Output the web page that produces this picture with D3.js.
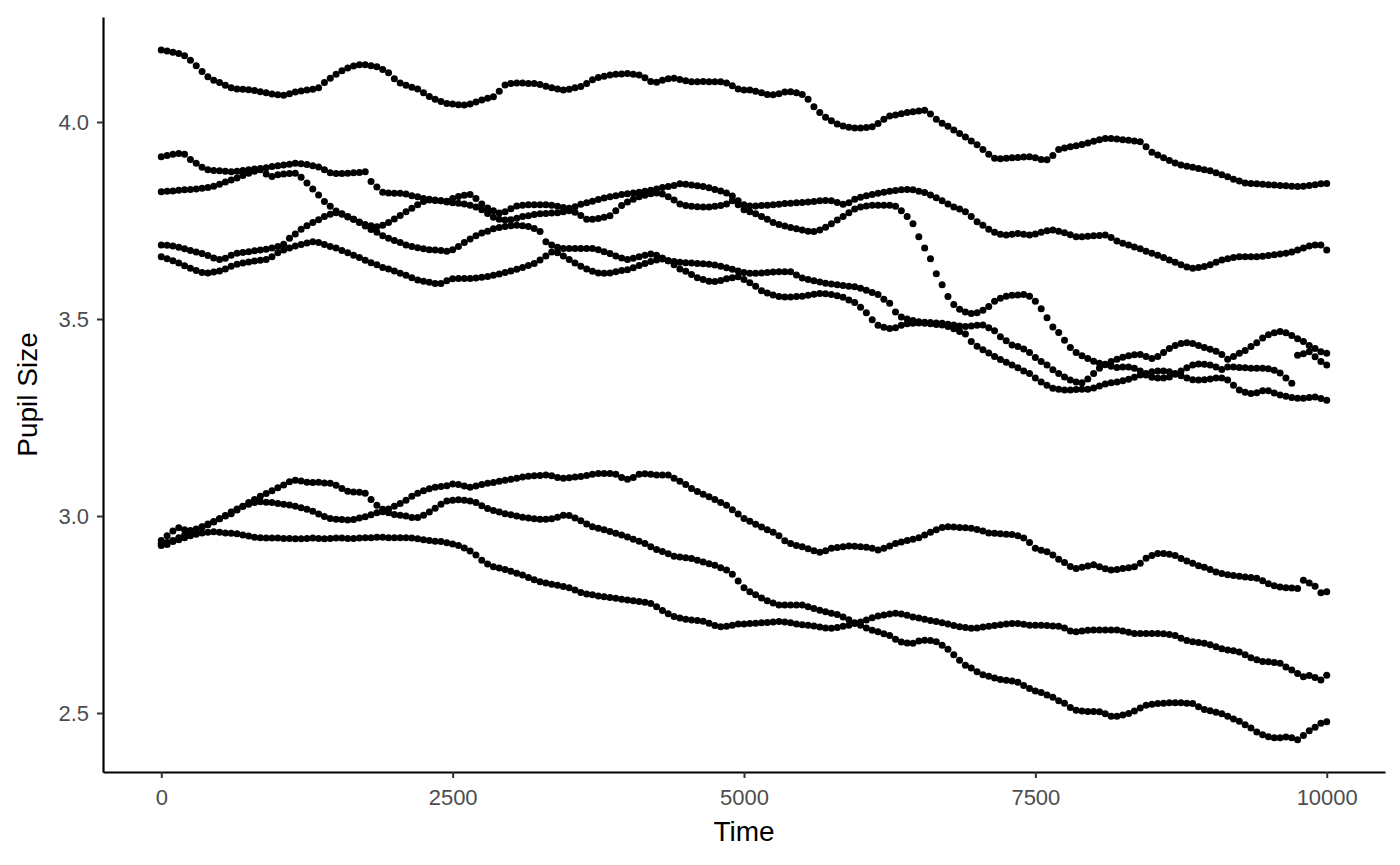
<!DOCTYPE html>
<html>
<head>
<meta charset="utf-8">
<script src="https://cdn.jsdelivr.net/npm/d3@7"></script>
<style>
  body { margin: 0; background: #fff; }
  svg { display: block; }
</style>
</head>
<body>
<div id="chart"></div>
<script>
// pupil traces, one value every 50 ms from 0 to 10000
var times = d3.range(0, 10001, 50);

var trial1 = [
  4.183, 4.180, 4.177, 4.174, 4.168, 4.157, 4.143, 4.128, 4.115, 4.106,
  4.100, 4.093, 4.087, 4.084, 4.083, 4.082, 4.080, 4.077, 4.074, 4.071,
  4.069, 4.068, 4.072, 4.076, 4.079, 4.081, 4.083, 4.087, 4.100, 4.111,
  4.121, 4.130, 4.137, 4.142, 4.145, 4.145, 4.143, 4.140, 4.133, 4.125,
  4.110, 4.099, 4.093, 4.088, 4.084, 4.074, 4.065, 4.058, 4.052, 4.047,
  4.046, 4.044, 4.043, 4.046, 4.051, 4.056, 4.060, 4.064, 4.078, 4.094,
  4.098, 4.099, 4.099, 4.098, 4.098, 4.095, 4.091, 4.087, 4.084, 4.081,
  4.083, 4.087, 4.090, 4.098, 4.107, 4.113, 4.116, 4.119, 4.121, 4.122,
  4.123, 4.121, 4.119, 4.112, 4.103, 4.101, 4.106, 4.110, 4.111, 4.108,
  4.105, 4.102, 4.102, 4.103, 4.102, 4.102, 4.102, 4.099, 4.092, 4.084,
  4.081, 4.081, 4.078, 4.074, 4.070, 4.069, 4.072, 4.076, 4.077, 4.074,
  4.070, 4.058, 4.039, 4.024, 4.012, 4.003, 3.995, 3.990, 3.987, 3.985,
  3.985, 3.986, 3.988, 3.996, 4.007, 4.015, 4.018, 4.021, 4.024, 4.026,
  4.028, 4.030, 4.020, 4.007, 3.997, 3.989, 3.980, 3.971, 3.962, 3.952,
  3.942, 3.930, 3.918, 3.908, 3.907, 3.908, 3.909, 3.910, 3.911, 3.912,
  3.909, 3.905, 3.904, 3.915, 3.930, 3.934, 3.937, 3.940, 3.943, 3.947,
  3.951, 3.955, 3.958, 3.958, 3.957, 3.955, 3.954, 3.952, 3.950, 3.937,
  3.923, 3.916, 3.909, 3.902, 3.896, 3.891, 3.888, 3.885, 3.882, 3.879,
  3.876, 3.871, 3.866, 3.861, 3.855, 3.850, 3.845, 3.844, 3.843, 3.842,
  3.841, 3.840, 3.839, 3.838, 3.837, 3.836, 3.837, 3.839, 3.841, 3.843,
  3.844
];

var trial2 = [
  3.912, 3.915, 3.918, 3.920, 3.918, 3.905, 3.895, 3.885, 3.879, 3.877,
  3.876, 3.875, 3.874, 3.875, 3.877, 3.879, 3.881, 3.882, 3.884, 3.887,
  3.889, 3.891, 3.893, 3.895, 3.894, 3.892, 3.889, 3.886, 3.879, 3.871,
  3.869, 3.869, 3.870, 3.871, 3.872, 3.874, 3.849, 3.835, 3.822, 3.820,
  3.819, 3.819, 3.817, 3.813, 3.810, 3.806, 3.804, 3.802, 3.800, 3.799,
  3.806, 3.811, 3.814, 3.816, 3.806, 3.792, 3.782, 3.775, 3.769, 3.772,
  3.780, 3.787, 3.789, 3.790, 3.790, 3.790, 3.790, 3.789, 3.786, 3.783,
  3.781, 3.785, 3.791, 3.795, 3.799, 3.803, 3.807, 3.810, 3.813, 3.816,
  3.818, 3.820, 3.822, 3.824, 3.827, 3.830, 3.834, 3.836, 3.839, 3.843,
  3.842, 3.840, 3.838, 3.836, 3.833, 3.829, 3.825, 3.820, 3.812, 3.800,
  3.790, 3.787, 3.787, 3.788, 3.789, 3.790, 3.791, 3.793, 3.794, 3.795,
  3.796, 3.797, 3.798, 3.800, 3.801, 3.800, 3.796, 3.791, 3.795, 3.804,
  3.809, 3.813, 3.816, 3.819, 3.822, 3.824, 3.826, 3.828, 3.829, 3.828,
  3.824, 3.821, 3.815, 3.808, 3.800, 3.792, 3.784, 3.779, 3.772, 3.760,
  3.747, 3.738, 3.728, 3.720, 3.715, 3.713, 3.715, 3.717, 3.715, 3.713,
  3.716, 3.720, 3.724, 3.726, 3.723, 3.719, 3.714, 3.709, 3.709, 3.710,
  3.711, 3.712, 3.713, 3.707, 3.698, 3.692, 3.688, 3.683, 3.678, 3.672,
  3.667, 3.662, 3.656, 3.650, 3.644, 3.638, 3.632, 3.629, 3.631, 3.633,
  3.638, 3.644, 3.650, 3.653, 3.656, 3.658, 3.658, 3.658, 3.658, 3.659,
  3.661, 3.663, 3.665, 3.667, 3.670, 3.675, 3.680, 3.685, 3.688, 3.688,
  3.675
];

var trial3 = [
  3.688, 3.687, 3.685, 3.682, 3.678, 3.674, 3.670, 3.666, 3.661, 3.655,
  3.651, 3.654, 3.662, 3.667, 3.669, 3.671, 3.673, 3.675, 3.677, 3.680,
  3.684, 3.690, 3.705, 3.716, 3.728, 3.737, 3.745, 3.752, 3.760, 3.766,
  3.770, 3.766, 3.760, 3.753, 3.746, 3.740, 3.737, 3.734, 3.738, 3.745,
  3.754, 3.763, 3.772, 3.781, 3.790, 3.798, 3.802, 3.801, 3.800, 3.797,
  3.795, 3.794, 3.792, 3.789, 3.784, 3.777, 3.768, 3.758, 3.753, 3.751,
  3.752, 3.756, 3.760, 3.762, 3.765, 3.767, 3.768, 3.769, 3.770, 3.772,
  3.775, 3.771, 3.763, 3.753, 3.753, 3.755, 3.758, 3.762, 3.775, 3.788,
  3.797, 3.804, 3.810, 3.814, 3.818, 3.820, 3.817, 3.810, 3.802, 3.792,
  3.788, 3.786, 3.785, 3.784, 3.784, 3.786, 3.788, 3.792, 3.800, 3.790,
  3.777, 3.772, 3.767, 3.760, 3.753, 3.745, 3.740, 3.736, 3.732, 3.729,
  3.726, 3.723, 3.722, 3.726, 3.733, 3.742, 3.751, 3.760, 3.770, 3.779,
  3.784, 3.787, 3.789, 3.789, 3.789, 3.789, 3.786, 3.775, 3.760, 3.742,
  3.709, 3.680, 3.653, 3.615, 3.587, 3.557, 3.537, 3.525, 3.518, 3.514,
  3.516, 3.522, 3.532, 3.545, 3.553, 3.558, 3.560, 3.561, 3.562, 3.558,
  3.545, 3.526, 3.503, 3.480, 3.466, 3.446, 3.428, 3.415, 3.407, 3.400,
  3.393, 3.388, 3.384, 3.380, 3.377, 3.378, 3.378, 3.375, 3.368, 3.358,
  3.352, 3.350, 3.350, 3.353, 3.360, 3.368, 3.376, 3.383, 3.386, 3.385,
  3.383, 3.378, 3.372, 3.378, 3.378, 3.377, 3.376, 3.375, 3.375, 3.375,
  3.374, 3.370, 3.363, 3.350, 3.337, 3.408, 3.412, 3.417, 3.404, 3.392,
  3.383
];

var trial4 = [
  3.823, 3.824, 3.825, 3.827, 3.828, 3.829, 3.830, 3.832, 3.834, 3.837,
  3.842, 3.848, 3.853, 3.858, 3.864, 3.870, 3.875, 3.879, 3.868, 3.862,
  3.866, 3.868, 3.869, 3.870, 3.860, 3.845, 3.830, 3.815, 3.798, 3.786,
  3.774, 3.767, 3.759, 3.753, 3.745, 3.736, 3.727, 3.720, 3.711, 3.705,
  3.699, 3.694, 3.688, 3.684, 3.681, 3.678, 3.676, 3.675, 3.674, 3.672,
  3.676, 3.684, 3.694, 3.703, 3.711, 3.718, 3.723, 3.729, 3.732, 3.735,
  3.737, 3.738, 3.737, 3.735, 3.730, 3.722, 3.696, 3.688, 3.682, 3.679,
  3.679, 3.679, 3.679, 3.679, 3.679, 3.676, 3.671, 3.666, 3.660, 3.655,
  3.651, 3.654, 3.658, 3.662, 3.665, 3.662, 3.655, 3.648, 3.646, 3.644,
  3.643, 3.642, 3.641, 3.640, 3.639, 3.637, 3.634, 3.630, 3.626, 3.622,
  3.618, 3.616, 3.616, 3.617, 3.618, 3.619, 3.620, 3.620, 3.620, 3.612,
  3.604, 3.600, 3.597, 3.594, 3.591, 3.589, 3.587, 3.585, 3.583, 3.582,
  3.578, 3.573, 3.567, 3.562, 3.550, 3.540, 3.518, 3.505, 3.500, 3.496,
  3.493, 3.492, 3.491, 3.490, 3.489, 3.487, 3.485, 3.482, 3.481, 3.482,
  3.484, 3.485, 3.478, 3.470, 3.455, 3.445, 3.434, 3.430, 3.424, 3.415,
  3.402, 3.392, 3.383, 3.371, 3.362, 3.353, 3.345, 3.340, 3.338, 3.348,
  3.362, 3.375, 3.385, 3.392, 3.398, 3.403, 3.407, 3.409, 3.410, 3.405,
  3.400, 3.405, 3.415, 3.425, 3.433, 3.438, 3.440, 3.438, 3.433, 3.428,
  3.423, 3.418, 3.410, 3.398, 3.405, 3.413, 3.420, 3.430, 3.440, 3.452,
  3.460, 3.465, 3.468, 3.465, 3.458, 3.450, 3.443, 3.433, 3.425, 3.417,
  3.413
];

var trial5 = [
  3.658, 3.653, 3.648, 3.642, 3.635, 3.629, 3.623, 3.618, 3.617, 3.619,
  3.622, 3.627, 3.634, 3.639, 3.642, 3.645, 3.647, 3.649, 3.651, 3.658,
  3.668, 3.675, 3.680, 3.685, 3.689, 3.693, 3.696, 3.694, 3.689, 3.684,
  3.680, 3.674, 3.668, 3.662, 3.656, 3.649, 3.643, 3.638, 3.631, 3.627,
  3.622, 3.616, 3.611, 3.605, 3.599, 3.596, 3.593, 3.590, 3.590, 3.597,
  3.602, 3.603, 3.603, 3.603, 3.604, 3.606, 3.608, 3.611, 3.614, 3.618,
  3.622, 3.626, 3.631, 3.636, 3.641, 3.650, 3.660, 3.670, 3.668, 3.660,
  3.651, 3.642, 3.634, 3.627, 3.621, 3.617, 3.616, 3.617, 3.620, 3.623,
  3.625, 3.630, 3.636, 3.641, 3.646, 3.650, 3.652, 3.648, 3.638, 3.627,
  3.621, 3.613, 3.605, 3.600, 3.596, 3.595, 3.598, 3.602, 3.605, 3.607,
  3.600, 3.592, 3.583, 3.572, 3.566, 3.561, 3.557, 3.556, 3.556, 3.557,
  3.558, 3.560, 3.563, 3.565, 3.564, 3.562, 3.559, 3.555, 3.548, 3.542,
  3.530, 3.516, 3.498, 3.484, 3.479, 3.476, 3.478, 3.484, 3.488, 3.489,
  3.490, 3.489, 3.488, 3.486, 3.485, 3.481, 3.475, 3.468, 3.462, 3.443,
  3.431, 3.422, 3.414, 3.405, 3.397, 3.390, 3.383, 3.376, 3.368, 3.362,
  3.350, 3.340, 3.332, 3.324, 3.322, 3.320, 3.320, 3.321, 3.322, 3.322,
  3.325, 3.330, 3.335, 3.338, 3.340, 3.343, 3.347, 3.352, 3.358, 3.362,
  3.366, 3.368, 3.368, 3.366, 3.362, 3.356, 3.350, 3.346, 3.345, 3.346,
  3.348, 3.350, 3.350, 3.345, 3.332, 3.320, 3.314, 3.311, 3.313, 3.318,
  3.318, 3.312, 3.307, 3.304, 3.301, 3.299, 3.299, 3.301, 3.302, 3.298,
  3.294
];

var trial6 = [
  2.930, 2.933, 2.938, 2.945, 2.952, 2.960, 2.967, 2.973, 2.980, 2.986,
  2.993, 3.000, 3.006, 3.015, 3.025, 3.034, 3.042, 3.050, 3.057, 3.064,
  3.072, 3.079, 3.087, 3.091, 3.089, 3.086, 3.085, 3.086, 3.084, 3.083,
  3.078, 3.070, 3.063, 3.061, 3.060, 3.058, 3.042, 3.027, 3.017, 3.018,
  3.025, 3.032, 3.040, 3.050, 3.058, 3.064, 3.069, 3.073, 3.075, 3.077,
  3.081, 3.080, 3.076, 3.073, 3.076, 3.080, 3.083, 3.085, 3.088, 3.091,
  3.093, 3.096, 3.099, 3.101, 3.102, 3.103, 3.104, 3.102, 3.098, 3.096,
  3.097, 3.099, 3.100, 3.103, 3.106, 3.108, 3.108, 3.108, 3.106, 3.098,
  3.093, 3.098, 3.106, 3.107, 3.106, 3.104, 3.104, 3.104, 3.096, 3.088,
  3.080, 3.070, 3.062, 3.055, 3.049, 3.042, 3.034, 3.027, 3.016, 3.005,
  2.994, 2.987, 2.979, 2.972, 2.965, 2.959, 2.950, 2.937, 2.930, 2.925,
  2.922, 2.917, 2.912, 2.908, 2.912, 2.918, 2.920, 2.922, 2.924, 2.923,
  2.922, 2.921, 2.918, 2.914, 2.918, 2.924, 2.930, 2.934, 2.938, 2.941,
  2.945, 2.952, 2.959, 2.965, 2.971, 2.973, 2.972, 2.971, 2.970, 2.969,
  2.966, 2.962, 2.957, 2.956, 2.955, 2.954, 2.953, 2.950, 2.944, 2.933,
  2.918, 2.913, 2.909, 2.901, 2.890, 2.882, 2.872, 2.867, 2.870, 2.873,
  2.876, 2.871, 2.866, 2.863, 2.864, 2.867, 2.869, 2.871, 2.880, 2.893,
  2.900, 2.905, 2.905, 2.903, 2.900, 2.892, 2.886, 2.880, 2.874, 2.870,
  2.864, 2.858, 2.854, 2.851, 2.849, 2.847, 2.845, 2.844, 2.842, 2.836,
  2.828, 2.823, 2.820, 2.818, 2.817, 2.816, 2.837, 2.830, 2.822, 2.805,
  2.808
];

var trial7 = [
  2.938, 2.950, 2.962, 2.970, 2.965, 2.963, 2.966, 2.972, 2.978, 2.985,
  2.993, 3.001, 3.010, 3.018, 3.024, 3.030, 3.034, 3.036, 3.035, 3.034,
  3.032, 3.030, 3.028, 3.025, 3.021, 3.017, 3.012, 3.005, 2.999, 2.994,
  2.992, 2.991, 2.990, 2.991, 2.995, 2.998, 3.003, 3.008, 3.011, 3.008,
  3.004, 3.002, 3.000, 2.996, 2.996, 3.002, 3.010, 3.020, 3.030, 3.038,
  3.040, 3.041, 3.040, 3.038, 3.034, 3.026, 3.019, 3.014, 3.010, 3.006,
  3.003, 3.000, 2.997, 2.995, 2.993, 2.992, 2.992, 2.993, 2.997, 3.002,
  3.001, 2.995, 2.988, 2.980, 2.973, 2.969, 2.965, 2.961, 2.956, 2.952,
  2.947, 2.941, 2.936, 2.930, 2.922, 2.915, 2.910, 2.904, 2.898, 2.896,
  2.894, 2.892, 2.888, 2.883, 2.879, 2.875, 2.869, 2.863, 2.852, 2.835,
  2.818, 2.808, 2.800, 2.792, 2.785, 2.779, 2.774, 2.774, 2.774, 2.774,
  2.774, 2.770, 2.765, 2.761, 2.757, 2.753, 2.750, 2.744, 2.737, 2.729,
  2.723, 2.716, 2.710, 2.706, 2.701, 2.697, 2.687, 2.680, 2.678, 2.677,
  2.683, 2.685, 2.684, 2.681, 2.672, 2.662, 2.648, 2.634, 2.621, 2.614,
  2.605, 2.597, 2.593, 2.589, 2.585, 2.583, 2.581, 2.578, 2.570, 2.562,
  2.556, 2.552, 2.546, 2.540, 2.531, 2.525, 2.514, 2.507, 2.505, 2.504,
  2.504, 2.503, 2.498, 2.492, 2.492, 2.495, 2.499, 2.505, 2.513, 2.520,
  2.522, 2.524, 2.525, 2.526, 2.526, 2.526, 2.525, 2.524, 2.516, 2.509,
  2.506, 2.502, 2.498, 2.492, 2.485, 2.479, 2.470, 2.462, 2.452, 2.445,
  2.440, 2.437, 2.437, 2.439, 2.437, 2.432, 2.443, 2.455, 2.464, 2.474,
  2.478
];

var trial8 = [
  2.925, 2.928, 2.935, 2.940, 2.945, 2.950, 2.954, 2.957, 2.959, 2.960,
  2.959, 2.957, 2.956, 2.955, 2.952, 2.949, 2.946, 2.945, 2.944, 2.944,
  2.944, 2.943, 2.943, 2.942, 2.942, 2.943, 2.944, 2.943, 2.942, 2.943,
  2.944, 2.944, 2.943, 2.943, 2.944, 2.945, 2.945, 2.946, 2.946, 2.945,
  2.945, 2.945, 2.945, 2.944, 2.942, 2.940, 2.938, 2.936, 2.935, 2.932,
  2.929, 2.925, 2.919, 2.911, 2.901, 2.888, 2.878, 2.871, 2.868, 2.864,
  2.860, 2.855, 2.850, 2.844, 2.838, 2.833, 2.830, 2.827, 2.824, 2.821,
  2.818, 2.812, 2.806, 2.802, 2.800, 2.797, 2.795, 2.793, 2.791, 2.789,
  2.787, 2.785, 2.783, 2.781, 2.778, 2.770, 2.760, 2.752, 2.745, 2.741,
  2.738, 2.736, 2.735, 2.733, 2.728, 2.722, 2.719, 2.720, 2.723, 2.726,
  2.726, 2.727, 2.728, 2.729, 2.730, 2.731, 2.732, 2.731, 2.729, 2.726,
  2.724, 2.723, 2.721, 2.718, 2.716, 2.715, 2.717, 2.720, 2.723, 2.727,
  2.731, 2.736, 2.742, 2.746, 2.749, 2.751, 2.753, 2.751, 2.748, 2.744,
  2.741, 2.738, 2.735, 2.732, 2.729, 2.726, 2.722, 2.719, 2.717, 2.715,
  2.716, 2.718, 2.720, 2.722, 2.724, 2.726, 2.727, 2.727, 2.725, 2.723,
  2.723, 2.723, 2.722, 2.721, 2.720, 2.716, 2.708, 2.706, 2.708, 2.710,
  2.711, 2.711, 2.711, 2.711, 2.711, 2.708, 2.705, 2.702, 2.702, 2.702,
  2.702, 2.702, 2.701, 2.699, 2.697, 2.690, 2.684, 2.681, 2.679, 2.677,
  2.673, 2.668, 2.663, 2.660, 2.658, 2.655, 2.648, 2.640, 2.635, 2.631,
  2.630, 2.628, 2.626, 2.617, 2.609, 2.600, 2.592, 2.595, 2.590, 2.584,
  2.596
];

var trials = [trial1, trial2, trial3, trial4, trial5, trial6, trial7, trial8];

var xTicks = [0, 2500, 5000, 7500, 10000];
var yTicks = [2.5, 3.0, 3.5, 4.0];

var svgWidth = 1400;
var svgHeight = 865;
var panelLeft = 103;
var panelRight = 1385;
var panelTop = 17;
var panelBottom = 772;
var pointR = 3.5;
var fontFamily = "'Liberation Sans', Arial, Helvetica, sans-serif";

var points = [];
trials.forEach(function(vals, k) {
    vals.forEach(function(v, i) {
        points.push({trial: k + 1, time: times[i], size: v});
    });
});

var xScale = d3.scaleLinear()
    .domain([-500, 10500])
    .range([panelLeft, panelRight]);
var yScale = d3.scaleLinear()
    .domain([2.3503, 4.2665])
    .range([panelBottom, panelTop]);

var svg = d3.select("#chart")
    .append("svg")
    .attr("width", svgWidth)
    .attr("height", svgHeight)
    .style("font-family", fontFamily);

svg.append("rect")
    .attr("width", svgWidth)
    .attr("height", svgHeight)
    .attr("fill", "#fff");

svg.append("g")
    .selectAll("circle")
    .data(points)
    .enter()
    .append("circle")
    .attr("cx", d => xScale(d.time))
    .attr("cy", d => yScale(d.size))
    .attr("r", pointR)
    .attr("fill", "#000");

var xAxisCall = d3.axisBottom(xScale)
    .tickValues(xTicks)
    .tickFormat(d3.format("d"))
    .tickSizeInner(6)
    .tickSizeOuter(0)
    .tickPadding(11);
var yAxisCall = d3.axisLeft(yScale)
    .tickValues(yTicks)
    .tickFormat(d3.format(".1f"))
    .tickSizeInner(6)
    .tickSizeOuter(0)
    .tickPadding(8);

var xAxisGroup = svg.append("g")
    .attr("transform", `translate(0,${panelBottom})`)
    .call(xAxisCall);
var yAxisGroup = svg.append("g")
    .attr("transform", `translate(${panelLeft},0)`)
    .call(yAxisCall);

[xAxisGroup, yAxisGroup].forEach(g => {
    g.select(".domain")
        .attr("stroke", "#000")
        .attr("stroke-width", 2.2);
    g.selectAll(".tick line")
        .attr("stroke", "#333")
        .attr("stroke-width", 2);
    g.selectAll(".tick text")
        .attr("fill", "#4d4d4d")
        .attr("font-size", "22px")
        .attr("font-family", fontFamily);
});

svg.append("text")
    .attr("x", (panelLeft + panelRight) / 2)
    .attr("y", 841)
    .attr("text-anchor", "middle")
    .attr("font-size", "28px")
    .attr("fill", "#000")
    .text("Time");

svg.append("text")
    .attr("transform", `translate(37,${(panelTop + panelBottom) / 2}) rotate(-90)`)
    .attr("text-anchor", "middle")
    .attr("font-size", "28px")
    .attr("fill", "#000")
    .text("Pupil Size");
</script>
</body>
</html>
